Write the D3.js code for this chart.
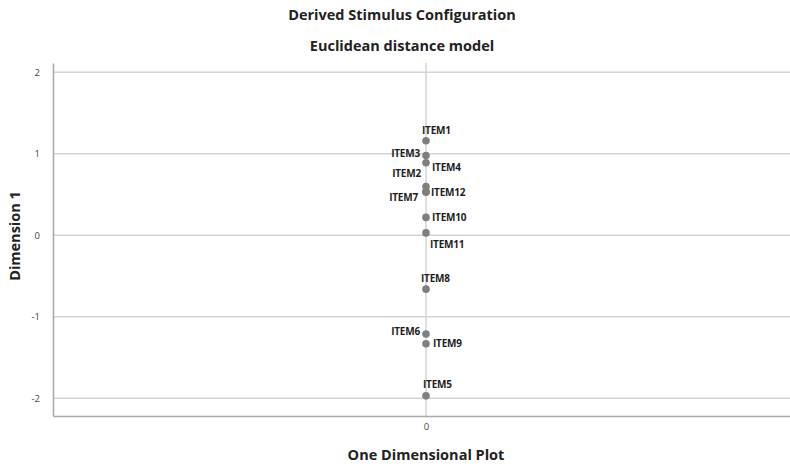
<!DOCTYPE html>
<html>
<head>
<meta charset="utf-8">
<script src="https://cdn.jsdelivr.net/npm/d3@7"></script>
<style>
  body { margin: 0; background: #fff; }
  text { font-family: "Open Sans", sans-serif; }
</style>
</head>
<body>
<script>
// stimulus names and their coordinate on dimension 1
const items = ["ITEM1", "ITEM3", "ITEM4", "ITEM2", "ITEM7", "ITEM12", "ITEM10", "ITEM11", "ITEM8", "ITEM6", "ITEM9", "ITEM5"];
const dim1 = [1.16, 0.98, 0.89, 0.60, 0.53, 0.54, 0.22, 0.03, -0.66, -1.21, -1.33, -1.97];
const yTicks = [-2, -1, 0, 1, 2];
const xTicks = [0];

// label placement around each dot (anchor, dx, dy)
const place = {
  ITEM1: ["start", -4, -7], ITEM3: ["end", -6, 2], ITEM4: ["start", 6, 8],
  ITEM2: ["end", -5, -9], ITEM7: ["end", -8, 9], ITEM12: ["start", 5, 5],
  ITEM10: ["start", 6, 4], ITEM11: ["start", 4, 15], ITEM8: ["start", -5, -7],
  ITEM6: ["end", -6, 1], ITEM9: ["start", 7, 3], ITEM5: ["start", -3, -8]
};

const data = items.map((d, i) => ({name: d, x: 0, y: dim1[i]}));

const W = 790, H = 466;
const svg = d3.select("body").append("svg").attr("width", W).attr("height", H);

const x = d3.scaleLinear().domain([-1, 1]).range([53, 799]);
const y = d3.scaleLinear().domain([-2.217, 2.115]).range([416, 63]);

// grid lines
svg.append("g").selectAll("line").data(yTicks).enter().append("line")
  .attr("x1", 53).attr("x2", 799)
  .attr("y1", d => y(d)).attr("y2", d => y(d))
  .attr("stroke", "#d4d4d4").attr("stroke-width", 1.5);

svg.append("g").selectAll("line").data(xTicks).enter().append("line")
  .attr("x1", d => x(d)).attr("x2", d => x(d))
  .attr("y1", 63).attr("y2", 416)
  .attr("stroke", "#d4d4d4").attr("stroke-width", 1.5);

// axes
const yAxis = svg.append("g").attr("transform", "translate(53,0)")
  .call(d3.axisLeft(y).tickValues(yTicks).tickFormat(d => String(d)).tickSize(0).tickPadding(13));
const xAxis = svg.append("g").attr("transform", "translate(0,416)")
  .call(d3.axisBottom(x).tickValues(xTicks).tickFormat(d => String(d)).tickSize(0).tickPadding(7));
[yAxis, xAxis].forEach(a => {
  a.select(".domain").attr("stroke", "#a8a8a8").attr("stroke-width", 1.5);
  a.selectAll("text").attr("font-size", 9.5).attr("fill", "#444")
    .style("font-family", "'Open Sans', sans-serif");
});

// points
svg.append("g").selectAll("circle").data(data).enter().append("circle")
  .attr("cx", d => x(d.x)).attr("cy", d => y(d.y))
  .attr("r", 3.8).attr("fill", "#7f7f7f");

svg.append("g").selectAll("text").data(data).enter().append("text")
  .attr("x", d => x(d.x) + place[d.name][1])
  .attr("y", d => y(d.y) + place[d.name][2])
  .attr("text-anchor", d => place[d.name][0])
  .attr("font-size", 10).attr("font-weight", "bold").attr("fill", "#1e1e1e")
  .attr("letter-spacing", -0.2)
  .text(d => d.name);

// titles
svg.append("text").attr("x", 402).attr("y", 20).attr("text-anchor", "middle")
  .attr("font-size", 14.5).attr("font-weight", "bold").attr("fill", "#222")
  .text("Derived Stimulus Configuration");
svg.append("text").attr("x", 402).attr("y", 51).attr("text-anchor", "middle")
  .attr("font-size", 14.5).attr("font-weight", "bold").attr("fill", "#222")
  .text("Euclidean distance model");
svg.append("text").attr("x", 426).attr("y", 460).attr("text-anchor", "middle")
  .attr("font-size", 14.5).attr("font-weight", "bold").attr("fill", "#222")
  .text("One Dimensional Plot");
svg.append("text").attr("transform", "translate(20,236) rotate(-90)")
  .attr("text-anchor", "middle")
  .attr("font-size", 14.5).attr("font-weight", "bold").attr("fill", "#222")
  .text("Dimension 1");
</script>
</body>
</html>
